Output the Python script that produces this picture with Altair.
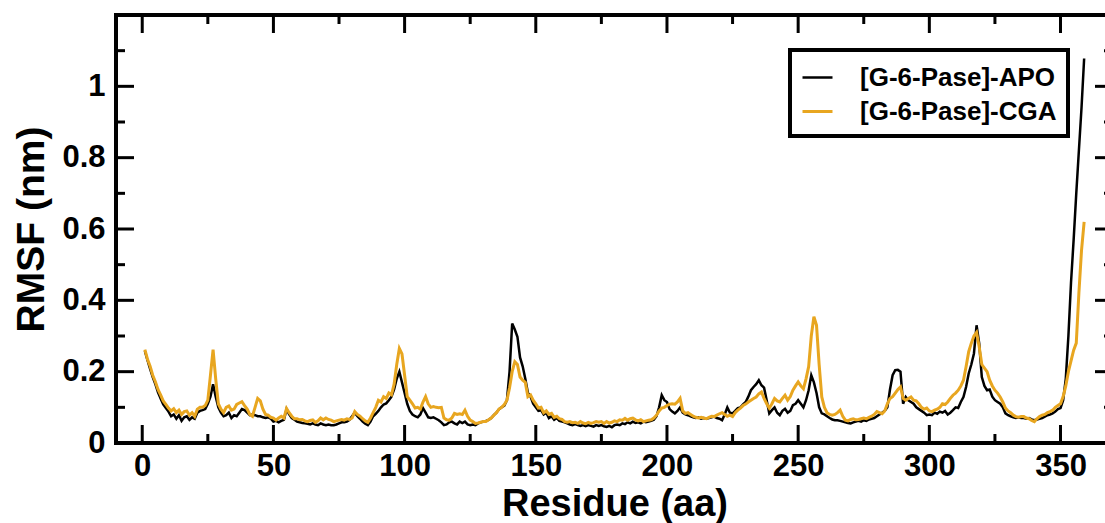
import altair as alt
import pandas as pd

# ---- data (residues 1..359) ----
apo = [
    0.258, 0.232, 0.208, 0.185, 0.165, 0.142, 0.125, 0.108, 0.098, 0.088,
    0.075, 0.080, 0.068, 0.078, 0.062, 0.072, 0.075, 0.065, 0.072, 0.068,
    0.085, 0.090, 0.092, 0.095, 0.110, 0.130, 0.165, 0.130, 0.100, 0.085,
    0.075, 0.078, 0.085, 0.070, 0.078, 0.075, 0.085, 0.095, 0.092, 0.085,
    0.078, 0.080, 0.078, 0.075, 0.075, 0.072, 0.070, 0.072, 0.068, 0.060,
    0.062, 0.058, 0.062, 0.065, 0.095, 0.080, 0.070, 0.065, 0.060, 0.058,
    0.056, 0.055, 0.054, 0.052, 0.055, 0.052, 0.050, 0.055, 0.052, 0.050,
    0.052, 0.050, 0.050, 0.052, 0.055, 0.058, 0.058, 0.060, 0.065, 0.075,
    0.085, 0.075, 0.068, 0.060, 0.054, 0.050, 0.060, 0.075, 0.082, 0.090,
    0.100, 0.108, 0.111, 0.120, 0.130, 0.150, 0.180, 0.200, 0.170, 0.140,
    0.110, 0.090, 0.080, 0.075, 0.072, 0.080, 0.098, 0.085, 0.072, 0.070,
    0.072, 0.068, 0.064, 0.058, 0.050, 0.052, 0.058, 0.060, 0.055, 0.052,
    0.060, 0.056, 0.060, 0.052, 0.050, 0.052, 0.050, 0.055, 0.058, 0.060,
    0.062, 0.065, 0.070, 0.078, 0.085, 0.095, 0.100, 0.105, 0.120, 0.200,
    0.335, 0.318, 0.298, 0.240, 0.215, 0.180, 0.140, 0.130, 0.110, 0.100,
    0.090, 0.092, 0.080, 0.085, 0.070, 0.075, 0.065, 0.070, 0.062, 0.060,
    0.058, 0.055, 0.052, 0.050, 0.053, 0.050, 0.048, 0.050, 0.047, 0.050,
    0.048, 0.046, 0.050, 0.048, 0.050, 0.047, 0.045, 0.048, 0.044, 0.050,
    0.052, 0.050, 0.055, 0.053, 0.058, 0.055, 0.060, 0.056, 0.058, 0.055,
    0.060, 0.058, 0.060, 0.062, 0.065, 0.075, 0.100, 0.134, 0.120, 0.115,
    0.095, 0.088, 0.083, 0.090, 0.100, 0.085, 0.080, 0.078, 0.075, 0.072,
    0.070, 0.072, 0.068, 0.070, 0.068, 0.070, 0.072, 0.074, 0.070, 0.068,
    0.064, 0.080, 0.100, 0.085, 0.083, 0.090, 0.098, 0.100, 0.108, 0.115,
    0.130, 0.148, 0.157, 0.165, 0.176, 0.162, 0.155, 0.120, 0.083, 0.092,
    0.100, 0.085, 0.078, 0.090, 0.096, 0.085, 0.090, 0.106, 0.110, 0.120,
    0.110, 0.100, 0.120, 0.148, 0.190, 0.170, 0.140, 0.100, 0.083, 0.080,
    0.075, 0.070, 0.066, 0.064, 0.064, 0.062, 0.060, 0.058, 0.056, 0.055,
    0.058, 0.060, 0.062, 0.060, 0.064, 0.062, 0.066, 0.068, 0.070, 0.075,
    0.080, 0.085, 0.090, 0.100, 0.150, 0.190, 0.204, 0.205, 0.200, 0.110,
    0.129, 0.120, 0.115, 0.110, 0.100, 0.095, 0.090, 0.085, 0.078, 0.080,
    0.078, 0.085, 0.082, 0.088, 0.085, 0.090, 0.080, 0.085, 0.092, 0.100,
    0.098, 0.115, 0.129, 0.157, 0.195, 0.220, 0.251, 0.330, 0.279, 0.185,
    0.160, 0.148, 0.150, 0.130, 0.120, 0.115, 0.110, 0.100, 0.083, 0.078,
    0.075, 0.072, 0.070, 0.072, 0.070, 0.070, 0.068, 0.070, 0.066, 0.064,
    0.066, 0.068, 0.070, 0.074, 0.078, 0.080, 0.083, 0.088, 0.095, 0.098,
    0.120, 0.180, 0.300, 0.450, 0.570, 0.700, 0.820, 0.940, 1.078,
]

cga = [
    0.262, 0.235, 0.215, 0.190, 0.172, 0.150, 0.135, 0.118, 0.108, 0.098,
    0.090, 0.096, 0.085, 0.092, 0.080, 0.088, 0.090, 0.078, 0.085, 0.075,
    0.095, 0.100, 0.100, 0.105, 0.120, 0.190, 0.262, 0.180, 0.110, 0.095,
    0.085, 0.100, 0.104, 0.092, 0.095, 0.108, 0.112, 0.116, 0.105, 0.095,
    0.080, 0.075, 0.100, 0.125, 0.118, 0.095, 0.080, 0.078, 0.072, 0.070,
    0.064, 0.070, 0.075, 0.070, 0.097, 0.085, 0.075, 0.068, 0.068, 0.065,
    0.066, 0.062, 0.060, 0.063, 0.065, 0.058, 0.062, 0.070, 0.065, 0.070,
    0.066, 0.064, 0.060, 0.062, 0.064, 0.066, 0.064, 0.068, 0.066, 0.070,
    0.088, 0.080, 0.075, 0.068, 0.062, 0.058, 0.070, 0.085, 0.100, 0.120,
    0.115, 0.130, 0.125, 0.140, 0.135, 0.165, 0.220, 0.265, 0.250, 0.190,
    0.130, 0.120, 0.110, 0.098, 0.100, 0.095, 0.115, 0.130, 0.110, 0.100,
    0.102, 0.100, 0.099, 0.100, 0.070, 0.065, 0.064, 0.070, 0.083, 0.080,
    0.082, 0.080, 0.092, 0.075, 0.064, 0.060, 0.055, 0.056, 0.058, 0.060,
    0.060, 0.065, 0.070, 0.078, 0.085, 0.095, 0.100, 0.108, 0.120, 0.155,
    0.200, 0.228, 0.220, 0.185, 0.176, 0.170, 0.130, 0.135, 0.120, 0.110,
    0.098, 0.100, 0.085, 0.090, 0.080, 0.083, 0.072, 0.075, 0.068, 0.066,
    0.060, 0.058, 0.060, 0.057, 0.058, 0.055, 0.060, 0.056, 0.054, 0.058,
    0.055, 0.057, 0.060, 0.058, 0.060, 0.055, 0.060, 0.056, 0.058, 0.062,
    0.060, 0.065, 0.064, 0.069, 0.064, 0.068, 0.070, 0.065, 0.062, 0.065,
    0.060, 0.062, 0.064, 0.065, 0.070, 0.078, 0.090, 0.098, 0.100, 0.105,
    0.109, 0.110, 0.109, 0.115, 0.125, 0.090, 0.083, 0.085, 0.080, 0.075,
    0.072, 0.070, 0.072, 0.070, 0.068, 0.072, 0.075, 0.074, 0.078, 0.082,
    0.085, 0.080, 0.075, 0.078, 0.074, 0.085, 0.092, 0.098, 0.105, 0.109,
    0.115, 0.120, 0.125, 0.129, 0.138, 0.143, 0.125, 0.110, 0.098, 0.110,
    0.125, 0.118, 0.115, 0.125, 0.134, 0.120, 0.130, 0.148, 0.160, 0.171,
    0.160, 0.152, 0.180, 0.214, 0.300, 0.354, 0.330, 0.220, 0.129, 0.100,
    0.085, 0.080, 0.078, 0.080, 0.085, 0.092, 0.075, 0.064, 0.062, 0.066,
    0.068, 0.065, 0.066, 0.068, 0.070, 0.068, 0.072, 0.075, 0.080, 0.088,
    0.085, 0.082, 0.090, 0.110, 0.125, 0.130, 0.140, 0.150, 0.157, 0.125,
    0.120, 0.125, 0.129, 0.120, 0.118, 0.110, 0.100, 0.095, 0.098, 0.090,
    0.088, 0.092, 0.095, 0.100, 0.110, 0.108, 0.115, 0.125, 0.134, 0.140,
    0.148, 0.160, 0.176, 0.214, 0.256, 0.280, 0.300, 0.310, 0.270, 0.220,
    0.210, 0.200, 0.176, 0.160, 0.148, 0.140, 0.129, 0.115, 0.098, 0.090,
    0.085, 0.078, 0.074, 0.072, 0.074, 0.074, 0.070, 0.068, 0.063, 0.060,
    0.068, 0.074, 0.078, 0.080, 0.085, 0.088, 0.092, 0.100, 0.105, 0.110,
    0.130, 0.160, 0.200, 0.230, 0.260, 0.280, 0.420, 0.540, 0.620,
]

series_names = ["[G-6-Pase]-APO", "[G-6-Pase]-CGA"]
series_colors = ["#000000", "#E8A620"]
series_widths = [2.5, 3.0]

x_major = [0, 50, 100, 150, 200, 250, 300, 350]
x_minor = [25, 75, 125, 175, 225, 275, 325]
y_major = [0, 0.2, 0.4, 0.6, 0.8, 1.0, 1.2]
y_minor = [0.1, 0.3, 0.5, 0.7, 0.9, 1.1]
y_labels = [0, 0.2, 0.4, 0.6, 0.8, 1.0]

# ---- layout ----
W, H = 997, 428
FONT = "Liberation Sans"
MAJ, MIN = 18, 9

df = pd.DataFrame({
    "Residue": list(range(1, len(apo) + 1)) + list(range(1, len(cga) + 1)),
    "RMSF": apo + cga,
    "System": [series_names[0]] * len(apo) + [series_names[1]] * len(cga),
})

xs = alt.Scale(domain=[-10, 370], nice=False, zero=False)
ys = alt.Scale(domain=[0, 1.2], nice=False)

x_axis = alt.Axis(values=x_major, format="d", title="Residue (aa)",
                  domain=False, ticks=False, tickSize=0, grid=False,
                  labelFont=FONT, labelFontSize=31, labelFontWeight="bold",
                  labelColor="black", labelPadding=8,
                  titleFont=FONT, titleFontSize=38, titleFontWeight="bold",
                  titleColor="black", titleY=72, titleBaseline="alphabetic")
y_axis = alt.Axis(values=y_labels, format="~g", title="RMSF (nm)",
                  domain=False, ticks=False, tickSize=0, grid=False,
                  labelFont=FONT, labelFontSize=31, labelFontWeight="bold",
                  labelColor="black", labelPadding=11,
                  titleFont=FONT, titleFontSize=39, titleFontWeight="bold",
                  titleColor="black", titleX=-73, titleY=H / 2,
                  titleAngle=270, titleBaseline="alphabetic", titleAlign="center")

lines = alt.Chart(df).mark_line().encode(
    x=alt.X("Residue:Q", scale=xs, axis=x_axis),
    y=alt.Y("RMSF:Q", scale=ys, axis=y_axis),
    color=alt.Color("System:N",
                    scale=alt.Scale(domain=series_names, range=series_colors),
                    legend=alt.Legend(title=None, orient="none", legendX=674, legendY=35,
                                      symbolType="stroke", symbolSize=900,
                                      symbolStrokeWidth=3, labelFont=FONT,
                                      labelFontSize=26, labelFontWeight="bold",
                                      labelColor="black", labelOffset=26, labelLimit=400,
                                      padding=11, rowPadding=4,
                                      strokeColor="black", fillColor="white")),
    strokeWidth=alt.StrokeWidth("System:N",
                                scale=alt.Scale(domain=series_names, range=series_widths),
                                legend=None),
)


def rules_x(vals, y0, y1):
    return alt.Chart(pd.DataFrame({"Residue": vals})).mark_rule(color="black", strokeWidth=3).encode(
        x=alt.X("Residue:Q", scale=xs, axis=x_axis), y=alt.value(y0), y2=alt.value(y1))


def rules_y(vals, x0, x1):
    return alt.Chart(pd.DataFrame({"RMSF": vals})).mark_rule(color="black", strokeWidth=3).encode(
        y=alt.Y("RMSF:Q", scale=ys, axis=y_axis), x=alt.value(x0), x2=alt.value(x1))


ticks = [
    rules_x(x_major, H, H - MAJ), rules_x(x_minor, H, H - MIN),
    rules_x(x_major, 0, MAJ), rules_x(x_minor, 0, MIN),
    rules_y(y_major, 0, MAJ), rules_y(y_minor, 0, MIN),
    rules_y(y_major, W - MAJ, W), rules_y(y_minor, W - MIN, W),
]

chart = alt.layer(lines, *ticks).properties(
    width=W, height=H,
    autosize=alt.AutoSizeParams(type="none"),
    padding={"left": 116, "top": 15, "right": -8, "bottom": 80},
    background="white",
).configure_view(
    stroke="black", strokeWidth=4
).configure_legend(
    strokeWidth=4
)

chart.save("out.html", embed_options={"renderer": "svg", "actions": False})
